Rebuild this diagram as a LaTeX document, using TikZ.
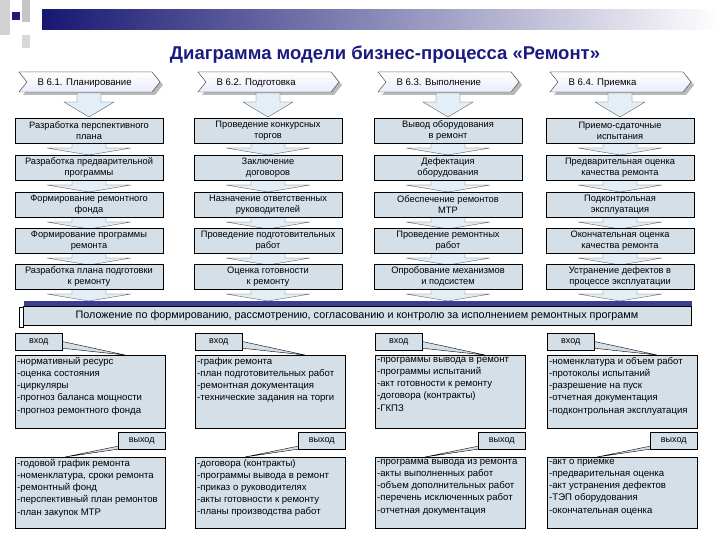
\documentclass[tikz,border=0pt]{standalone}
\usepackage{fontspec}
\setmainfont{Liberation Sans}
\begin{document}
\begin{tikzpicture}[x=1pt,y=-1pt,
  lbox/.style={draw=black,fill=boxc,anchor=north west,minimum width=150pt,minimum height=73pt,inner sep=0pt},
  lst/.style={inner sep=2pt,font=\fontsize{9.6}{12.2}\selectfont,align=left,anchor=north west,execute at begin node=\strut},
  tag/.style={draw=black,fill=boxc,font=\fontsize{9}{9}\selectfont,minimum width=47pt,minimum height=17pt,inner sep=1pt},
  arr/.style={draw=gray!70!black,fill=arrc,line width=0.4pt},
  hdr/.style={font=\fontsize{9.6}{9}\selectfont,anchor=base west}]
\definecolor{boxc}{HTML}{D5DFE8}
\definecolor{arrc}{HTML}{E4EEF6}
\definecolor{navy}{HTML}{1A1A80}
\useasboundingbox (0,0) rectangle (720,540);
% decorative top
\fill[left color=navy!90!black,right color=white] (42,10) rectangle (720,30);
\fill[gray!35] (0,0) rectangle (10,35);
\fill[gray!45] (22,0) rectangle (30,22);
\fill[gray!30] (22,35) rectangle (30,48);
\fill[white] (10,22) rectangle (42,35);
\fill[navy] (12,12) rectangle (20,20);
\node[font=\bfseries\fontsize{18.5}{20}\selectfont,text=navy] (title) at (385,55) {Диаграмма модели бизнес-процесса «Ремонт»};
% columns
\foreach \i/\c/\h in {1/89/{В 6.1. Планирование},2/268/{В 6.2. Подготовка},3/448/{В 6.3. Выполнение},4/620/{В 6.4. Приемка}}{
  \fill[gray!55] (\c-66,75) -- (\c+66,75) -- (\c+74,85) -- (\c+66,95) -- (\c-66,95) -- (\c-58,85) -- cycle;
  \filldraw[draw=gray!60!black,top color=white,bottom color=arrc!80!blue!30] (\c-70,72) -- (\c+63,72) -- (\c+71,82) -- (\c+63,92) -- (\c-70,92) -- (\c-62,82) -- cycle;
  \node[hdr] (h\i) at (\c-55,86) {\h};
  \draw[arr] (\c-12,93) -- (\c+12,93) -- (\c+12,102) -- (\c+25,102) -- (\c,117) -- (\c-25,102) -- (\c-12,102) -- cycle;
  \foreach \y in {143,180,217,253,289}{
    \draw[arr] (\c-17,\y) -- (\c+17,\y) -- (\c+17,\y+5) -- (\c+42,\y+5) -- (\c,\y+12) -- (\c-42,\y+5) -- (\c-17,\y+5) -- cycle;
  }
}
\foreach \c/\i in {89/1,268/2,448/3,620/4}{
  \foreach \y/\j in {130.5/1,167.5/2,204.5/3,240.5/4,277/5}{
    \node[draw=black,fill=boxc,minimum width=148pt,minimum height=25pt,inner sep=0pt] (b\i\j) at (\c,\y) {};
  }
}
\foreach \n/\t in {
 11/{Разработка перспективного\\плана},12/{Разработка предварительной\\программы},13/{Формирование ремонтного\\фонда},14/{Формирование программы\\ремонта},15/{Разработка плана подготовки\\к ремонту},
 21/{Проведение конкурсных\\торгов},22/{Заключение\\договоров},23/{Назначение ответственных\\руководителей},24/{Проведение подготовительных\\работ},25/{Оценка готовности\\к ремонту},
 31/{Вывод оборудования\\в ремонт},32/{Дефектация\\оборудования},33/{Обеспечение ремонтов\\МТР},34/{Проведение ремонтных\\работ},35/{Опробование механизмов\\и подсистем},
 41/{Приемо-сдаточные\\испытания},42/{Предварительная оценка\\качества ремонта},43/{Подконтрольная\\эксплуатация},44/{Окончательная оценка\\качества ремонта},45/{Устранение дефектов в\\процессе эксплуатации}}{
  \node[align=center,font=\fontsize{9.3}{11}\selectfont,inner sep=0pt] (t\n) at (b\n) {\t};
}
% banner
\fill[navy!85] (24,301) rectangle (692,306);
\node[draw=black,fill=boxc,minimum width=668pt,minimum height=19pt,inner sep=0pt,font=\fontsize{10.8}{11}\selectfont] (ban) at (357,316) {Положение по формированию, рассмотрению, согласованию и контролю за исполнением ремонтных программ};
\draw[fill=white] (19,307) rectangle (23,327);
% input/output
\foreach \i/\x in {1/15,2/195,3/375,4/547}{
  \fill[boxc,draw=black] (\x+45,341) -- (\x+110,355) -- (\x+45,348) -- cycle;
  \node[tag,anchor=north west] (in\i) at (\x,333) {вход};
  \fill[boxc,draw=black] (\x+104,446) -- (\x+50,457) -- (\x+104,449) -- cycle;
  \node[tag,anchor=north west] (out\i) at (\x+103,432) {выход};
  \node[lbox] (L\i) at (\x,355) {};
  \node[lbox,minimum height=71pt] (O\i) at (\x,457) {};
}
\node[lst] (l1) at (L1.north west) {-нормативный ресурс\\-оценка состояния\\-циркуляры\\-прогноз баланса мощности\\-прогноз ремонтного фонда};
\node[lst] (l2) at (L2.north west) {-график ремонта\\-план подготовительных работ\\-ремонтная документация\\-технические задания на торги};
\node[lst] (l3) at (L3.north west) {-программы вывода в ремонт\\-программы испытаний\\-акт готовности к ремонту\\-договора (контракты)\\-ГКПЗ};
\node[lst] (l4) at (L4.north west) {-номенклатура и объем работ\\-протоколы испытаний\\-разрешение на пуск\\-отчетная документация\\-подконтрольная эксплуатация};
\node[lst] (o1) at (O1.north west) {-годовой график ремонта\\-номенклатура, сроки ремонта\\-ремонтный фонд\\-перспективный план ремонтов\\-план закупок МТР};
\node[lst] (o2) at (O2.north west) {-договора (контракты)\\-программы вывода в ремонт\\-приказ о руководителях\\-акты готовности к ремонту\\-планы производства работ};
\node[lst] (o3) at (O3.north west) {-программа вывода из ремонта\\-акты выполненных работ\\-объем дополнительных работ\\-перечень исключенных работ\\-отчетная документация};
\node[lst] (o4) at (O4.north west) {-акт о приемке\\-предварительная оценка\\-акт устранения дефектов\\-ТЭП оборудования\\-окончательная оценка};
\end{tikzpicture}
\end{document}
